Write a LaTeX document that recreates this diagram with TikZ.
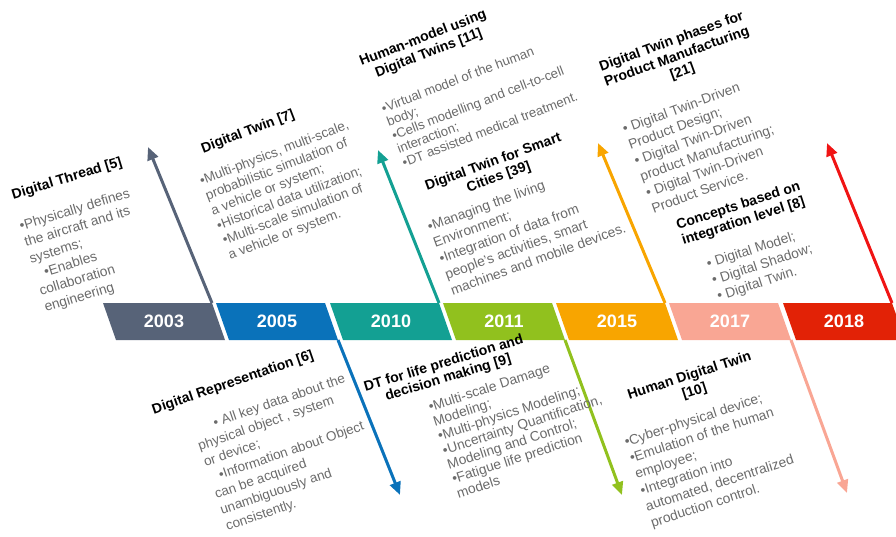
\documentclass[tikz,border=0pt]{standalone}
\usepackage{fontspec}
\setmainfont{Liberation Sans}
\usetikzlibrary{arrows.meta,calc}
\definecolor{y2003}{HTML}{576378}
\definecolor{y2005}{HTML}{0A72BA}
\definecolor{y2010}{HTML}{13A093}
\definecolor{y2011}{HTML}{91C11E}
\definecolor{y2015}{HTML}{F8A500}
\definecolor{y2017}{HTML}{F9A694}
\definecolor{y2018}{HTML}{E22206}
\definecolor{r2018}{HTML}{F01414}
\definecolor{bodygray}{HTML}{6B6B6B}
\tikzset{
  yearlabel/.style={text=white,font=\bfseries\fontsize{18}{18}\selectfont},
  ttl/.style={align=center,inner sep=0pt,font=\bfseries\fontsize{14}{16}\selectfont},
  txt/.style={align=left,anchor=north west,inner sep=0pt,text=bodygray,font=\fontsize{13.8}{17}\selectfont},
  timearrow/.style={line width=3pt,draw=#1,-{Triangle[length=13pt,width=11pt]}}
}
\begin{document}
\begin{tikzpicture}[x=1pt,y=-1pt]
\useasboundingbox (0,0) rectangle (896,537);

% year band
\foreach \yr/\xl in {2003/103,2005/216,2010/330,2011/443,2015/556,2017/669,2018/783}{
  \coordinate (nw\yr) at (\xl,303);
  \coordinate (ne\yr) at (\xl+109,303);
  \coordinate (se\yr) at (\xl+122,340);
  \coordinate (sw\yr) at (\xl+13,340);
  \fill[y\yr] (nw\yr) -- (ne\yr) -- (se\yr) -- (sw\yr) -- cycle;
  \node[yearlabel] (y\yr) at ($(nw\yr)!0.5!(se\yr)$) {\yr};
}

% arrow tips
\coordinate (tip2003) at (148,147);
\coordinate (tip2005) at (400,495);
\coordinate (tip2010) at (378,150);
\coordinate (tip2011) at (622,495);
\coordinate (tip2015) at (598,143);
\coordinate (tip2017) at (847,493);
\coordinate (tip2018) at (827,143);

\draw[timearrow=y2003] (ne2003) -- (tip2003);
\draw[timearrow=y2005] (se2005) -- (tip2005);
\draw[timearrow=y2010] (ne2010) -- (tip2010);
\draw[timearrow=y2011] (se2011) -- (tip2011);
\draw[timearrow=y2015] (ne2015) -- (tip2015);
\draw[timearrow=y2017] (se2017) -- (tip2017);
\draw[timearrow=r2018] (ne2018) -- (tip2018);

% above the band
\node[ttl,rotate=17] (dthread) at (67,179) {Digital Thread [5]};
\node[txt,rotate=17] (dthreadtxt) at (18,221) {•Physically defines\\the aircraft and its\\systems;\\\hspace*{10pt}•Enables\\collaboration\\engineering};

\node[ttl,rotate=21] (dtwin) at (248,132) {Digital Twin [7]};
\node[txt,rotate=21,font=\fontsize{13.5}{16}\selectfont] (dtwintxt) at (198,176) {•Multi-physics, multi-scale,\\probabilistic simulation of\\a vehicle or system;\\•Historical data utilization;\\•Multi-scale simulation of\\a vehicle or system.};

\node[ttl,rotate=21] (humanmodel) at (426,46) {Human-model using\\Digital Twins [11]};
\node[txt,rotate=21,font=\fontsize{13.2}{14.5}\selectfont] (humanmodeltxt) at (380,104) {•Virtual model of the human\\body;\\•Cells modelling and cell-to-cell\\interaction;\\•DT assisted medical treatment.};

\node[ttl,rotate=20] (smartcity) at (496,170) {Digital Twin for Smart\\Cities [39]};
\node[txt,rotate=20] (smartcitytxt) at (426,222) {•Managing the living\\Environment;\\•Integration of data from\\people’s activities, smart\\machines and mobile devices.};

\node[ttl,rotate=20] (phases) at (677,57) {Digital Twin phases for\\Product Manufacturing\\{}[21]};
\node[txt,rotate=20] (phasestxt) at (621,124) {• Digital Twin-Driven\\Product Design;\\• Digital Twin-Driven\\product Manufacturing;\\• Digital Twin-Driven\\Product Service.};

\node[ttl,rotate=18] (concepts) at (741,214) {Concepts based on\\integration level [8]};
\node[txt,rotate=18] (conceptstxt) at (705,259) {• Digital Model;\\• Digital Shadow;\\• Digital Twin.};

% below the band
\node[ttl,rotate=19] (digrep) at (233,383) {Digital Representation [6]};
\node[txt,rotate=19,font=\fontsize{13.5}{17}\selectfont] (digreptxt) at (191,425) {\hspace*{22pt}• All key data about the\\physical object , system\\or device;\\\hspace*{10pt}•Information about Object\\can be acquired\\unambiguously and\\consistently.};

\node[ttl,rotate=17,font=\bfseries\fontsize{14}{15}\selectfont] (lifepred) at (446,371) {DT for life prediction and\\decision making [9]};
\node[txt,rotate=18,font=\fontsize{13.8}{15.2}\selectfont] (lifepredtxt) at (427,402) {•Multi-scale Damage\\Modeling;\\•Multi-physics Modeling;\\•Uncertainty Quantification,\\Modeling and Control;\\•Fatigue life prediction\\models};

\node[ttl,rotate=18] (humandt) at (692,384) {Human Digital Twin\\{}[10]};
\node[txt,rotate=18] (humandttxt) at (623,437) {•Cyber-physical device;\\•Emulation of the human\\employee;\\•Integration into\\automated, decentralized\\production control.};
\end{tikzpicture}
\end{document}
